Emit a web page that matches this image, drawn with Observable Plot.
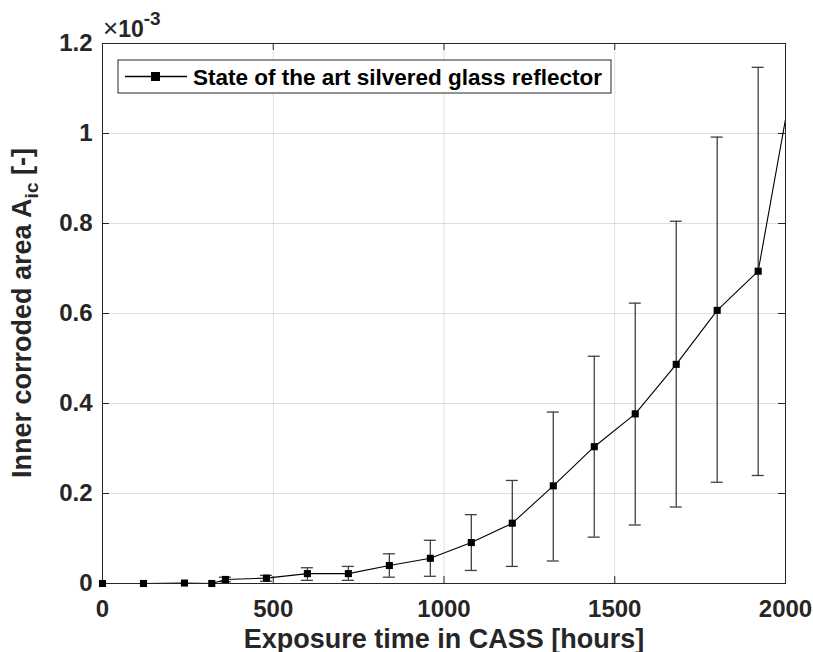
<!DOCTYPE html>
<html>
<head>
<meta charset="utf-8">
<script src="https://cdn.jsdelivr.net/npm/d3@7"></script>
<script src="https://cdn.jsdelivr.net/npm/@observablehq/plot@0.6"></script>
<style>
  html, body { margin: 0; padding: 0; background: #fff; }
  #chart svg { display: block; }
</style>
</head>
<body>
<div id="chart"></div>
<script>
// Exposure time (hours)
const hours = [0, 120, 240, 320, 360, 480, 600, 720, 840, 960, 1080, 1200, 1320, 1440, 1560, 1680, 1800, 1920, 2040];
// Inner corroded area (×10^-3)
const area  = [0, 0, 0.001, 0, 0.009, 0.012, 0.022, 0.022, 0.040, 0.056, 0.091, 0.134, 0.217, 0.304, 0.377, 0.487, 0.607, 0.694, 1.20];
// Error bar bounds (×10^-3)
const lower = [null, null, null, null, 0.004, 0.005, 0.007, 0.007, 0.014, 0.016, 0.029, 0.038, 0.050, 0.103, 0.130, 0.170, 0.225, 0.240, null];
const upper = [null, null, null, null, 0.014, 0.018, 0.035, 0.038, 0.066, 0.096, 0.153, 0.229, 0.381, 0.505, 0.623, 0.805, 0.992, 1.147, null];

const xTicks = [0, 500, 1000, 1500, 2000];
const yTicks = [0, 0.2, 0.4, 0.6, 0.8, 1.0, 1.2];
const seriesName = "State of the art silvered glass reflector";
const xTitle = "Exposure time in CASS [hours]";

const data = hours.map((h, i) => ({h, a: area[i], lo: lower[i], hi: upper[i]}));
const bars = data.filter(d => d.lo != null);
const shown = data.filter(d => d.h <= 2000);

const W = 813, H = 652, mL = 102, mR = 28, mT = 43, mB = 69;
const pw = W - mL - mR, ph = H - mT - mB;
const font = "'Liberation Sans', Arial, sans-serif";
const axisColor = "#262626";
const tickLen = 7;

const chart = Plot.plot({
  width: W, height: H,
  marginLeft: mL, marginRight: mR, marginTop: mT, marginBottom: mB,
  style: {fontFamily: font, background: "#fff"},
  x: {domain: [0, 2000]},
  y: {domain: [0, 1.2]},
  marks: [
    Plot.gridX(xTicks, {stroke: "#000", strokeOpacity: 0.12}),
    Plot.gridY(yTicks, {stroke: "#000", strokeOpacity: 0.12}),
    // inward ticks
    Plot.tickY(yTicks, {y: d => d, insetRight: pw - tickLen, stroke: axisColor}),
    Plot.tickY(yTicks, {y: d => d, insetLeft: pw - tickLen, stroke: axisColor}),
    Plot.tickX(xTicks, {x: d => d, insetTop: ph - tickLen, stroke: axisColor}),
    Plot.tickX(xTicks, {x: d => d, insetBottom: ph - tickLen, stroke: axisColor}),
    Plot.axisX(xTicks, {tickSize: 0, tickPadding: 0, dy: 16, fontSize: 24, fontWeight: "bold", fill: "#262626",
      tickFormat: d => String(d), label: null}),
    Plot.axisY(yTicks, {tickSize: 0, tickPadding: 10, fontSize: 24, fontWeight: "bold", fill: "#262626",
      tickFormat: d => d === 0 ? "0" : d3.format("~g")(+d.toFixed(1)), label: null}),
    Plot.text([xTitle], {frameAnchor: "bottom", dy: 64, fontSize: 27, fontWeight: "bold", fill: "#262626", text: d => d}),
    // error bars
    Plot.ruleX(bars, {x: "h", y1: "lo", y2: "hi", stroke: "#404040", strokeWidth: 1.3, clip: true}),
    Plot.ruleY(bars, {y: "hi", x1: "h", x2: "h", insetLeft: -6, insetRight: -6, stroke: "#404040", strokeWidth: 1.3, clip: true}),
    Plot.ruleY(bars, {y: "lo", x1: "h", x2: "h", insetLeft: -6, insetRight: -6, stroke: "#404040", strokeWidth: 1.3, clip: true}),
    Plot.frame({stroke: axisColor, strokeWidth: 1}),
    Plot.line(data, {x: "h", y: "a", stroke: "#000", strokeWidth: 1.1, clip: true}),
    Plot.dot(shown, {x: "h", y: "a", symbol: "square", r: 4, fill: "#000", stroke: null})
  ]
});

const svg = d3.select(chart);

// y-axis title with subscript
const yt = svg.append("text")
  .attr("transform", `translate(31, ${mT + ph / 2}) rotate(-90)`)
  .attr("text-anchor", "middle")
  .attr("font-family", font).attr("font-size", 27).attr("font-weight", "bold")
  .attr("fill", "#262626");
yt.append("tspan").text("Inner corroded area A");
yt.append("tspan").attr("dy", 7).attr("font-size", 19).text("ic");
yt.append("tspan").attr("dy", -7).text(" [-]");

// exponent label
const ex = svg.append("text")
  .attr("x", mL + 1).attr("y", mT - 6)
  .attr("text-anchor", "start")
  .attr("font-family", font).attr("font-size", 23).attr("font-weight", "bold")
  .attr("fill", "#262626");
ex.append("tspan").attr("font-weight", "normal").attr("font-size", 26).text("×");
ex.append("tspan").text("10");
ex.append("tspan").attr("dy", -12).attr("font-size", 19).text("-3");

// legend
const lg = svg.append("g");
const lx = 118, ly = 60, lw = 493, lh = 33;
lg.append("rect").attr("x", lx).attr("y", ly).attr("width", lw).attr("height", lh)
  .attr("fill", "#fff").attr("stroke", axisColor).attr("stroke-width", 1);
lg.append("line").attr("x1", lx + 7).attr("x2", lx + 69).attr("y1", ly + lh / 2).attr("y2", ly + lh / 2)
  .attr("stroke", "#000").attr("stroke-width", 1.3);
lg.append("rect").attr("x", lx + 33).attr("y", ly + lh / 2 - 4.5).attr("width", 9).attr("height", 9).attr("fill", "#000");
lg.append("text").attr("x", lx + 75).attr("y", ly + lh / 2 + 8)
  .attr("text-anchor", "start")
  .attr("font-family", font).attr("font-size", 22.5).attr("font-weight", "bold").attr("fill", "#000")
  .text(seriesName);

document.getElementById("chart").appendChild(chart);
</script>
</body>
</html>
